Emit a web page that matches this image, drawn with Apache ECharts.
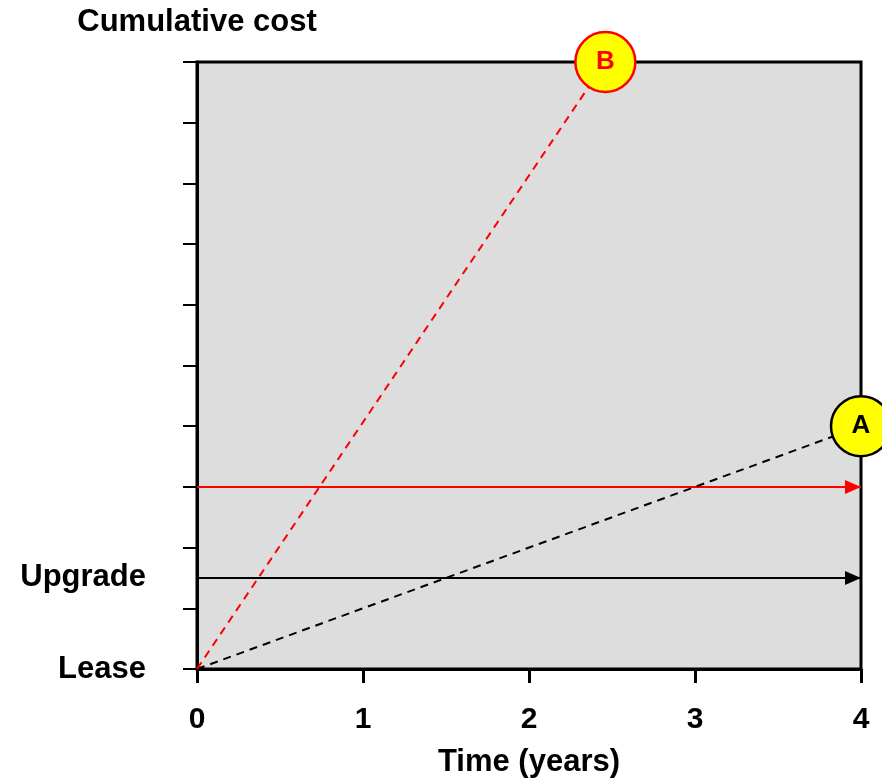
<!DOCTYPE html>
<html><head><meta charset="utf-8">
<script src="https://cdn.jsdelivr.net/npm/echarts@6/dist/echarts.min.js"></script>
<style>html,body{margin:0;padding:0;background:#fff}#c{width:882px;height:778px}</style>
</head><body><div id="c"></div>
<script>
const xTicks = [0, 1, 2, 3, 4];
const yTickValues = [0,1,2,3,4,5,6,7,8,9,10];
const yLabelValues = [0, 1.5];
const yLabelNames = {0: 'Lease', 1.5: 'Upgrade'};
const upgradeLine = [[0, 1.5], [4, 1.5]];
const redLevelLine = [[0, 3], [4, 3]];
const lineA = [[0, 0], [4, 4]];
const lineB = [[0, 0], [2.46, 10]];
const pointA = [4, 4];
const pointB = [2.46, 10];

const font = 'Liberation Sans, Arial, sans-serif';
const arrowPath = 'path://M0,0 L16,7 L0,14 Z';

function arrowSeries(data, color) {
  return {
    type: 'line', clip: false, silent: true,
    data: data.map((d, i) => i === data.length - 1
      ? {value: d, symbol: arrowPath, symbolSize: [16, 14], symbolOffset: [-8, 0], itemStyle: {color: color}}
      : {value: d, symbol: 'none'}),
    showSymbol: true,
    lineStyle: {color: color, width: 2},
    itemStyle: {color: color},
    z: 3
  };
}

const chart = echarts.init(document.getElementById('c'));
chart.setOption({
  animation: false,
  grid: {left: 197, right: 21, top: 62, bottom: 109, show: true, outerBoundsMode: 'none', containLabel: false,
    backgroundColor: '#dddddd', borderColor: '#000', borderWidth: 3},
  xAxis: {
    type: 'value', min: 0, max: 4, interval: 1,
    name: 'Time (years)', nameLocation: 'middle', nameGap: 78,
    nameTextStyle: {fontFamily: font, fontWeight: 'bold', fontSize: 31, color: '#000'},
    axisLine: {show: true, lineStyle: {color: '#000', width: 3}},
    axisTick: {show: true, length: 14, lineStyle: {color: '#000', width: 3}},
    axisLabel: {margin: 36, fontFamily: font, fontWeight: 'bold', fontSize: 30, color: '#000',
      customValues: xTicks},
    splitLine: {show: false}
  },
  yAxis: {
    type: 'value', min: 0, max: 10, interval: 1,
    name: 'Cumulative cost', nameLocation: 'end', nameGap: 24,
    nameTextStyle: {fontFamily: font, fontWeight: 'bold', fontSize: 31, color: '#000', align: 'center'},
    axisLine: {show: true, lineStyle: {color: '#000', width: 3}},
    axisTick: {show: true, length: 14, lineStyle: {color: '#000', width: 2}, customValues: yTickValues},
    axisLabel: {margin: 51, fontFamily: font, fontWeight: 'bold', fontSize: 31, color: '#000',
      padding: [8, 0, 0, 0],
      customValues: yLabelValues, formatter: v => yLabelNames[v] || ''},
    splitLine: {show: false}
  },
  series: [
    arrowSeries(upgradeLine, '#000000'),
    arrowSeries(redLevelLine, '#ff0000'),
    {type: 'line', data: lineA, symbol: 'none', clip: false, silent: true,
      lineStyle: {color: '#000', width: 2, type: [8, 6]}, z: 3},
    {type: 'line', data: lineB, symbol: 'none', clip: false, silent: true,
      lineStyle: {color: '#ff0000', width: 2, type: [8, 6]}, z: 3},
    {type: 'scatter', data: [pointA], symbol: 'circle', symbolSize: 60, clip: false, silent: true,
      itemStyle: {color: '#ffff00', borderColor: '#000', borderWidth: 2.5, opacity: 1},
      label: {show: true, position: 'inside', formatter: 'A', fontFamily: font, fontWeight: 'bold', fontSize: 26, color: '#000'}, z: 5},
    {type: 'scatter', data: [pointB], symbol: 'circle', symbolSize: 60, clip: false, silent: true,
      itemStyle: {color: '#ffff00', borderColor: '#ff0000', borderWidth: 2.5, opacity: 1},
      label: {show: true, position: 'inside', formatter: 'B', fontFamily: font, fontWeight: 'bold', fontSize: 26, color: '#ff0000'}, z: 5}
  ]
});
</script></body></html>
